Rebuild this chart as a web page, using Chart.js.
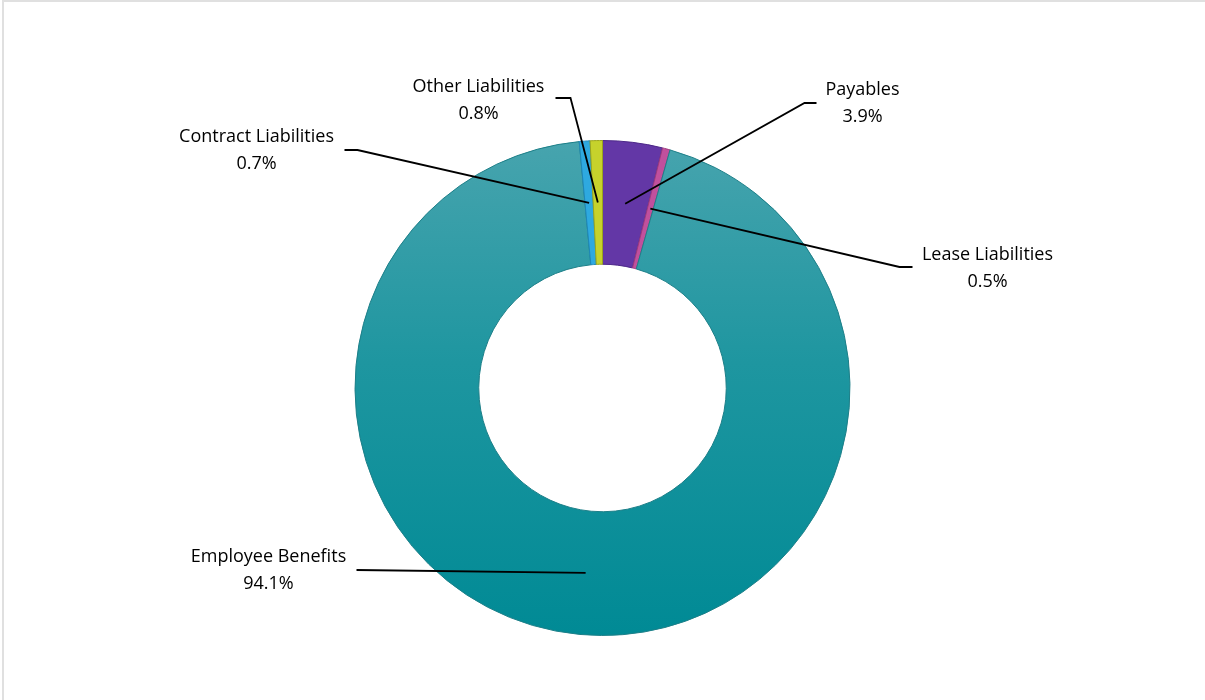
<!DOCTYPE html>
<html>
<head>
<meta charset="utf-8">
<script src="https://cdn.jsdelivr.net/npm/chart.js@4.4.0/dist/chart.umd.min.js"></script>
<style>
  html, body { margin: 0; padding: 0; background: #fff; overflow: hidden; }
  #frame { position: absolute; left: 2px; top: 0; width: 1300px; height: 800px; border-left: 2px solid #e0e0e0; border-top: 2px solid #e0e0e0; }
  #wrap { position: absolute; left: 0; top: 0; width: 1205px; height: 700px; }
</style>
</head>
<body>
<div id="frame"></div>
<div id="wrap"><canvas id="liabilities"></canvas></div>
<script>
const categories = ['Payables', 'Lease Liabilities', 'Employee Benefits', 'Contract Liabilities', 'Other Liabilities']
const shares = [3.9, 0.5, 94.1, 0.7, 0.8]
const sliceColors = ['#6337a6', '#c1509d', '#1b98a2', '#2ea9e0', '#c6d22c']
const sliceEdges = ['#4c2788', '#9c3a7e', '#1d7f88', '#1d86b8', '#9aa41c']

// callout text centre, elbow start and elbow end, relative to the doughnut centre
const callouts = [
    { tx: 260, ty: -298, ex1: 214, ey1: -285, ex2: 202, ey2: -285 },
    { tx: 385, ty: -133, ex1: 310, ey1: -121, ex2: 297, ey2: -121 },
    { tx: -334, ty: 169, ex1: -246, ey1: 182, ex2: -246, ey2: 182 },
    { tx: -346, ty: -251, ex1: -258, ey1: -238, ex2: -245, ey2: -238 },
    { tx: -124, ty: -301, ex1: -47, ey1: -290, ex2: -32, ey2: -290 },
]

const fillFor = (context) => {
    const i = context.dataIndex
    const area = context.chart.chartArea
    if (i !== 2 || !area) return sliceColors[i]
    // employee benefits slice shades from light at the top to deep teal at the bottom
    const g = context.chart.ctx.createLinearGradient(0, area.top, 0, area.bottom)
    g.addColorStop(0, '#47a4ae')
    g.addColorStop(0.45, '#1e96a0')
    g.addColorStop(1, '#008a95')
    return g
}

const calloutPlugin = {
    id: 'callouts',
    afterDatasetsDraw(chart) {
        const ctx = chart.ctx
        const arcs = chart.getDatasetMeta(0).data
        ctx.save()
        arcs.forEach((arc, i) => {
            const p = arc.getProps(['x', 'y', 'startAngle', 'endAngle', 'innerRadius', 'outerRadius'], true)
            const mid = (p.startAngle + p.endAngle) / 2
            const r = (p.innerRadius + p.outerRadius) / 2
            const ax = p.x + Math.cos(mid) * r
            const ay = p.y + Math.sin(mid) * r
            const c = callouts[i]

            ctx.strokeStyle = '#000'
            ctx.lineWidth = 1.8
            ctx.beginPath()
            ctx.moveTo(p.x + c.ex1, p.y + c.ey1)
            ctx.lineTo(p.x + c.ex2, p.y + c.ey2)
            ctx.lineTo(ax, ay)
            ctx.stroke()

            ctx.fillStyle = '#000'
            ctx.font = '18px "Open Sans", Lato, sans-serif'
            ctx.textAlign = 'center'
            ctx.textBaseline = 'middle'
            ctx.fillText(categories[i], p.x + c.tx, p.y + c.ty)
            ctx.fillText(shares[i].toFixed(1) + '%', p.x + c.tx, p.y + c.ty + 27)
        })
        ctx.restore()
    },
}

new Chart(document.getElementById('liabilities'), {
    type: 'doughnut',
    data: {
        labels: categories,
        datasets: [
            {
                data: shares,
                backgroundColor: fillFor,
                borderColor: sliceEdges,
                borderWidth: 1,
            },
        ],
    },
    options: {
        responsive: true,
        maintainAspectRatio: false,
        animation: false,
        cutout: '50%',
        layout: { padding: { top: 140, bottom: 64 } },
        plugins: {
            legend: { display: false },
            tooltip: { enabled: false },
        },
    },
    plugins: [calloutPlugin],
})
</script>
</body>
</html>
